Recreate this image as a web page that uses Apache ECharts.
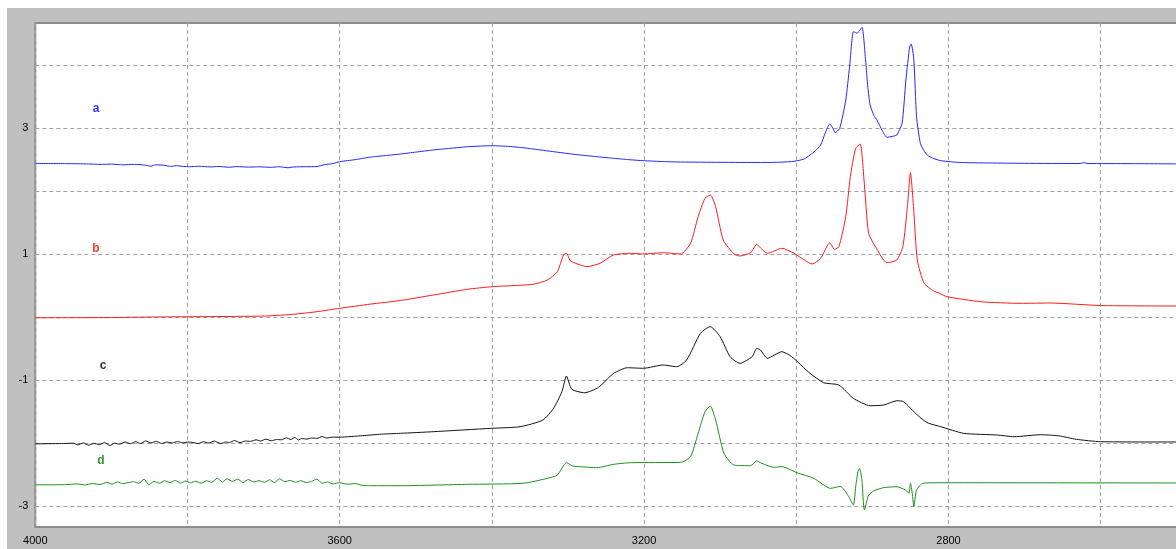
<!DOCTYPE html>
<html><head><meta charset="utf-8">
<script src="https://cdn.jsdelivr.net/npm/echarts@6/dist/echarts.min.js"></script>
<style>
html,body{margin:0;padding:0;background:#fff;width:1176px;height:549px;overflow:hidden;}
#chart{position:absolute;left:7px;top:8px;width:1169px;height:541px;background:#c0c0c0;}
</style></head><body><div id="chart"></div>
<script>
// ---- data (wavenumber, value) ----
const xLabelValues = [4000, 3600, 3200, 2800];
const yLabelValues = [-3, -1, 1, 3];
const yGridValues = [-3, -2, -1, 0, 1, 2, 3, 4];
const seriesNames = ['a', 'b', 'c', 'd'];
const seriesColors = ['#2626ff', '#ff1a1a', '#141414', '#1a901a'];
const labelColors = ['#0000ff', '#ff0000', '#000000', '#008000'];

const seriesA = [[4000,2.439],[3960,2.437],[3930,2.432],[3915,2.425],[3900,2.430],[3885,2.418],[3870,2.426],[3855,2.412],[3848,2.395],[3842,2.418],[3830,2.410],[3822,2.392],[3815,2.405],[3805,2.392],[3797,2.388],[3785,2.395],[3770,2.385],[3760,2.392],[3745,2.380],[3735,2.390],[3720,2.382],[3705,2.386],[3690,2.378],[3680,2.388],[3668,2.372],[3660,2.385],[3645,2.388],[3630,2.390],[3620,2.420],[3610,2.435],[3600,2.468],[3580,2.500],[3560,2.540],[3540,2.565],[3520,2.590],[3500,2.620],[3477,2.654],[3455,2.680],[3432,2.706],[3415,2.716],[3400,2.722],[3380,2.712],[3359,2.690],[3340,2.660],[3319,2.627],[3300,2.597],[3284,2.574],[3260,2.545],[3240,2.522],[3220,2.500],[3201,2.484],[3175,2.470],[3152,2.463],[3100,2.458],[3047,2.455],[3020,2.460],[3003,2.474],[2990,2.510],[2982,2.574],[2975,2.640],[2968,2.733],[2962,2.924],[2956,3.067],[2952,3.000],[2949,2.929],[2943,2.998],[2935,3.448],[2930,3.977],[2925,4.533],[2922,4.520],[2920,4.508],[2917,4.549],[2913.5,4.603],[2909,4.083],[2906,3.650],[2903,3.369],[2898,3.200],[2894,3.130],[2887,2.960],[2881,2.855],[2874,2.870],[2868,2.892],[2861,3.078],[2856,3.766],[2851,4.295],[2849,4.338],[2845.5,4.083],[2842,3.183],[2837,2.760],[2832,2.640],[2828,2.574],[2820,2.520],[2810,2.484],[2784,2.455],[2700,2.442],[2626,2.439],[2622,2.455],[2618,2.439],[2560,2.437],[2500,2.433]];

const seriesB = [[4000,-0.012],[3900,-0.008],[3850,0.000],[3797,0.005],[3740,0.010],[3696,0.017],[3660,0.045],[3630,0.085],[3600,0.139],[3560,0.205],[3520,0.263],[3477,0.350],[3432,0.441],[3400,0.482],[3363,0.505],[3346,0.520],[3327,0.589],[3314,0.720],[3306,0.986],[3302,1.013],[3297,0.895],[3284,0.827],[3275,0.800],[3258,0.854],[3240,0.986],[3218,1.013],[3201,1.002],[3175,1.022],[3152,1.002],[3139,1.171],[3129,1.594],[3120,1.886],[3113,1.939],[3106,1.753],[3096,1.224],[3082,1.002],[3074,0.970],[3060,1.022],[3052,1.156],[3047,1.097],[3038,1.013],[3019,1.092],[3003,1.013],[2979,0.843],[2968,0.933],[2956,1.181],[2950,1.076],[2944,1.118],[2935,1.594],[2929,2.230],[2922,2.681],[2916,2.749],[2911,2.177],[2905,1.330],[2896,1.118],[2881,0.863],[2868,0.906],[2860,1.118],[2854,1.753],[2850,2.293],[2846,1.753],[2841,0.906],[2832,0.536],[2820,0.420],[2810,0.366],[2802,0.323],[2758,0.244],[2705,0.218],[2666,0.223],[2600,0.183],[2500,0.175]];

const seriesC = [[4000,-2.014],[3970,-2.010],[3950,-2.005],[3944,-2.030],[3937,-2.000],[3930,-2.035],[3923,-2.008],[3916,-2.025],[3909,-1.995],[3902,-2.040],[3896,-2.005],[3889,-2.018],[3882,-1.985],[3875,-2.012],[3868,-1.978],[3862,-2.010],[3855,-1.968],[3848,-2.000],[3841,-1.975],[3834,-2.008],[3827,-1.985],[3820,-2.000],[3813,-1.977],[3806,-1.998],[3799,-1.985],[3793,-1.992],[3786,-2.010],[3779,-1.980],[3772,-2.002],[3765,-1.970],[3756,-2.010],[3750,-1.985],[3745,-1.992],[3738,-1.962],[3731,-1.995],[3724,-1.970],[3717,-1.975],[3710,-1.950],[3704,-1.968],[3697,-1.940],[3690,-1.965],[3683,-1.945],[3677,-1.950],[3670,-1.920],[3664,-1.945],[3659,-1.912],[3654,-1.952],[3650,-1.930],[3643,-1.938],[3637,-1.922],[3630,-1.928],[3623,-1.898],[3617,-1.922],[3610,-1.908],[3600,-1.908],[3570,-1.884],[3545,-1.860],[3520,-1.847],[3477,-1.821],[3400,-1.767],[3363,-1.742],[3333,-1.636],[3319,-1.450],[3308,-1.186],[3302,-0.937],[3295,-1.148],[3278,-1.202],[3260,-1.117],[3240,-0.894],[3222,-0.805],[3201,-0.814],[3175,-0.762],[3157,-0.789],[3144,-0.682],[3126,-0.258],[3113,-0.153],[3100,-0.312],[3087,-0.630],[3074,-0.735],[3058,-0.630],[3052,-0.497],[3047,-0.524],[3038,-0.655],[3019,-0.550],[3006,-0.630],[2982,-0.894],[2964,-1.043],[2944,-1.080],[2925,-1.291],[2903,-1.408],[2885,-1.397],[2868,-1.329],[2859,-1.345],[2841,-1.556],[2828,-1.678],[2810,-1.742],[2780,-1.847],[2736,-1.874],[2714,-1.901],[2679,-1.869],[2655,-1.887],[2632,-1.942],[2600,-1.980],[2500,-1.985]];

const seriesD = [[4000,-2.665],[3960,-2.662],[3945,-2.650],[3935,-2.668],[3925,-2.645],[3915,-2.660],[3906,-2.625],[3899,-2.655],[3892,-2.620],[3885,-2.648],[3878,-2.630],[3871,-2.615],[3864,-2.640],[3857,-2.575],[3851,-2.665],[3844,-2.610],[3837,-2.640],[3830,-2.600],[3823,-2.630],[3816,-2.595],[3809,-2.640],[3803,-2.605],[3796,-2.632],[3789,-2.610],[3782,-2.640],[3775,-2.600],[3768,-2.625],[3761,-2.560],[3754,-2.620],[3748,-2.570],[3741,-2.610],[3734,-2.575],[3727,-2.630],[3720,-2.580],[3713,-2.620],[3706,-2.600],[3699,-2.625],[3692,-2.585],[3686,-2.630],[3679,-2.570],[3672,-2.615],[3665,-2.595],[3658,-2.625],[3651,-2.600],[3644,-2.630],[3637,-2.610],[3630,-2.575],[3623,-2.640],[3616,-2.620],[3609,-2.650],[3600,-2.632],[3590,-2.655],[3580,-2.645],[3570,-2.675],[3560,-2.679],[3520,-2.679],[3432,-2.657],[3359,-2.641],[3327,-2.562],[3314,-2.509],[3302,-2.314],[3294,-2.366],[3284,-2.377],[3262,-2.393],[3240,-2.339],[3218,-2.314],[3152,-2.308],[3139,-2.219],[3129,-1.847],[3120,-1.504],[3113,-1.413],[3106,-1.636],[3095,-2.165],[3082,-2.350],[3060,-2.361],[3052,-2.282],[3047,-2.314],[3030,-2.387],[3019,-2.377],[2999,-2.473],[2977,-2.562],[2955,-2.721],[2942,-2.690],[2931,-2.854],[2925,-2.986],[2922,-2.700],[2919,-2.457],[2917,-2.403],[2914,-2.560],[2910.5,-3.065],[2905,-2.830],[2898,-2.759],[2885,-2.710],[2868,-2.695],[2856.5,-2.748],[2852,-2.800],[2850,-2.641],[2847.6,-2.800],[2845.5,-3.013],[2842,-2.748],[2834,-2.641],[2810,-2.632],[2500,-2.636]];

const labelPositions = [[3920.2,3.313],[3920.2,1.081],[3911.0,-0.770],[3913.7,-2.280]];

const allSeries = [seriesA, seriesB, seriesC, seriesD];

const chart = echarts.init(document.getElementById('chart'), null, {renderer: 'canvas'});
const font = 'Liberation Sans, Arial, sans-serif';
const gridLine = {show: true, lineStyle: {color: '#a0a0a0', type: [4, 3], width: 1}};

const option = {
  animation: false,
  backgroundColor: 'transparent',
  grid: {
    left: 28.3, top: 15, width: 1217.6, height: 504,
    outerBoundsMode: 'none', containLabel: false,
    show: true, backgroundColor: '#ffffff', borderColor: '#8c8c8c', borderWidth: 2
  },
  xAxis: {
    type: 'value', inverse: true, min: 2400, max: 4000, interval: 200,
    axisLine: {show: false}, axisTick: {show: false},
    axisLabel: {
      margin: 8, fontSize: 11, color: '#000', fontFamily: font,
      showMinLabel: true, showMaxLabel: true,
      formatter: v => (xLabelValues.indexOf(v) >= 0 ? String(v) : '')
    },
    splitLine: gridLine
  },
  yAxis: {
    type: 'value', min: -3.335, max: 4.671,
    axisLine: {show: false},
    axisTick: {show: false, customValues: yGridValues},
    axisLabel: {margin: 7, fontSize: 11, color: '#000', fontFamily: font, customValues: yLabelValues},
    splitLine: gridLine
  },
  series: allSeries.map((d, i) => ({
    type: 'line', name: seriesNames[i], data: d, symbol: 'none', showSymbol: false,
    smooth: 0.2,
    lineStyle: {color: seriesColors[i], width: 1}, itemStyle: {color: seriesColors[i]},
    z: 3 + i
  })).concat([{
    type: 'scatter', symbolSize: 1, z: 10,
    itemStyle: {color: 'rgba(0,0,0,0)'},
    data: labelPositions.map((p, i) => ({
      value: p, name: seriesNames[i],
      label: {show: true, position: 'inside', formatter: '{b}', color: labelColors[i],
              fontWeight: 'bold', fontSize: 12, fontFamily: font}
    }))
  }])
};
chart.setOption(option);
</script></body></html>
